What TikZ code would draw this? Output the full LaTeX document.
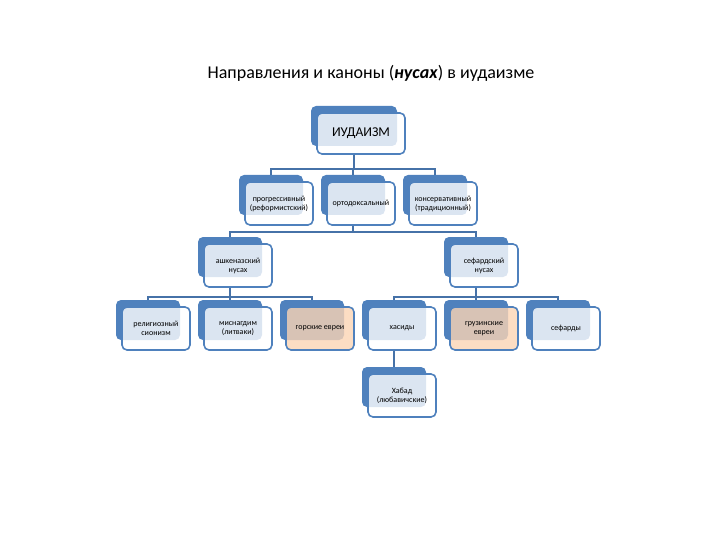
\documentclass[tikz,border=0pt]{standalone}
\usepackage{fontspec}
\setmainfont{Carlito}
\usetikzlibrary{calc,positioning}

\definecolor{smblue}{RGB}{79,129,189}
\definecolor{smline}{RGB}{70,114,168}
\definecolor{smpeach}{RGB}{251,212,180}

\begin{document}
\begin{tikzpicture}[
    x=1pt, y=-1pt,
    font=\fontsize{8}{9}\selectfont,
    back/.style={fill=smblue, rounded corners=5pt, inner sep=0pt,
        minimum width=64pt, minimum height=40pt},
    front/.style={draw=smblue, line width=1.6pt, fill=white, fill opacity=0.8,
        text opacity=1, rounded corners=5pt, inner sep=1pt, align=center,
        minimum width=68pt, minimum height=43pt},
    warm/.style={fill=smpeach},
    conn/.style={draw=smline, line width=1.5pt}
]
\useasboundingbox (0,0) rectangle (720,540);

% =========================================================================
% 1. TITLE
% =========================================================================
\node[font=\fontsize{18}{21}\selectfont] (title) at (371,73)
    {Направления и каноны (\textbf{\textit{нусах}}) в иудаизме};

% =========================================================================
% 2. ROOT
% =========================================================================
\node[back, minimum width=86pt] (judaism) at (354,126) {};
\node[front, minimum width=88pt, minimum height=41pt,
    font=\fontsize{13.5}{15}\selectfont] (judaism-f) at (361,133.5) {ИУДАИЗМ};

% =========================================================================
% 3. DIRECTIONS
% =========================================================================
\node[back] (reform)  at (271,195) {};
\node[back] (ortho)   at (353,195) {};
\node[back] (conserv) at (435,195) {};
\node[front] (reform-f)  at ([shift={(8,8.5)}]reform.center)  {прогрессивный\\(реформистский)};
\node[front] (ortho-f)   at ([shift={(8,8.5)}]ortho.center)   {ортодоксальный};
\node[front] (conserv-f) at ([shift={(8,8.5)}]conserv.center) {консервативный\\(традиционный)};

% =========================================================================
% 4. NUSACH
% =========================================================================
\node[back] (ashk) at (230,257) {};
\node[back] (seph) at (476,257) {};
\node[front] (ashk-f) at ([shift={(8,8.5)}]ashk.center) {ашкеназский\\нусах};
\node[front] (seph-f) at ([shift={(8,8.5)}]seph.center) {сефардский\\нусах};

% =========================================================================
% 5. COMMUNITIES
% =========================================================================
\node[back] (relzion)   at (148,320) {};
\node[back] (misnag)    at (230,320) {};
\node[back] (mountain)  at (312,320) {};
\node[back] (hasid)     at (394,320) {};
\node[back] (georgian)  at (476,320) {};
\node[back] (sephardim) at (558,320) {};
\node[back] (chabad)    at (394,387) {};

\node[front] (relzion-f)   at ([shift={(8,8.5)}]relzion.center)   {религиозный\\сионизм};
\node[front] (misnag-f)    at ([shift={(8,8.5)}]misnag.center)    {миснагдим\\(литваки)};
\node[front, warm] (mountain-f) at ([shift={(8,8.5)}]mountain.center) {горские евреи};
\node[front] (hasid-f)     at ([shift={(8,8.5)}]hasid.center)     {хасиды};
\node[front, warm] (georgian-f) at ([shift={(8,8.5)}]georgian.center) {грузинские\\евреи};
\node[front] (sephardim-f) at ([shift={(8,8.5)}]sephardim.center) {сефарды};
\node[front] (chabad-f)    at ([shift={(8,8.5)}]chabad.center)    {Хабад\\(любавичские)};

% =========================================================================
% 6. CONNECTORS
% =========================================================================
\foreach \c in {reform,ortho,conserv}
    \draw[conn] (judaism.center |- judaism-f.south) -- ++(0,14) -| (\c.north);

\foreach \c in {ashk,seph}
    \draw[conn] (ortho.center |- ortho-f.south) -- ++(0,6) -| (\c.north);

\foreach \c in {relzion,misnag,mountain}
    \draw[conn] (ashk.center |- ashk-f.south) -- ++(0,9) -| (\c.north);

\foreach \c in {hasid,georgian,sephardim}
    \draw[conn] (seph.center |- seph-f.south) -- ++(0,9) -| (\c.north);

\draw[conn] (hasid.center |- hasid-f.south) -- (chabad.north);

\end{tikzpicture}
\end{document}
